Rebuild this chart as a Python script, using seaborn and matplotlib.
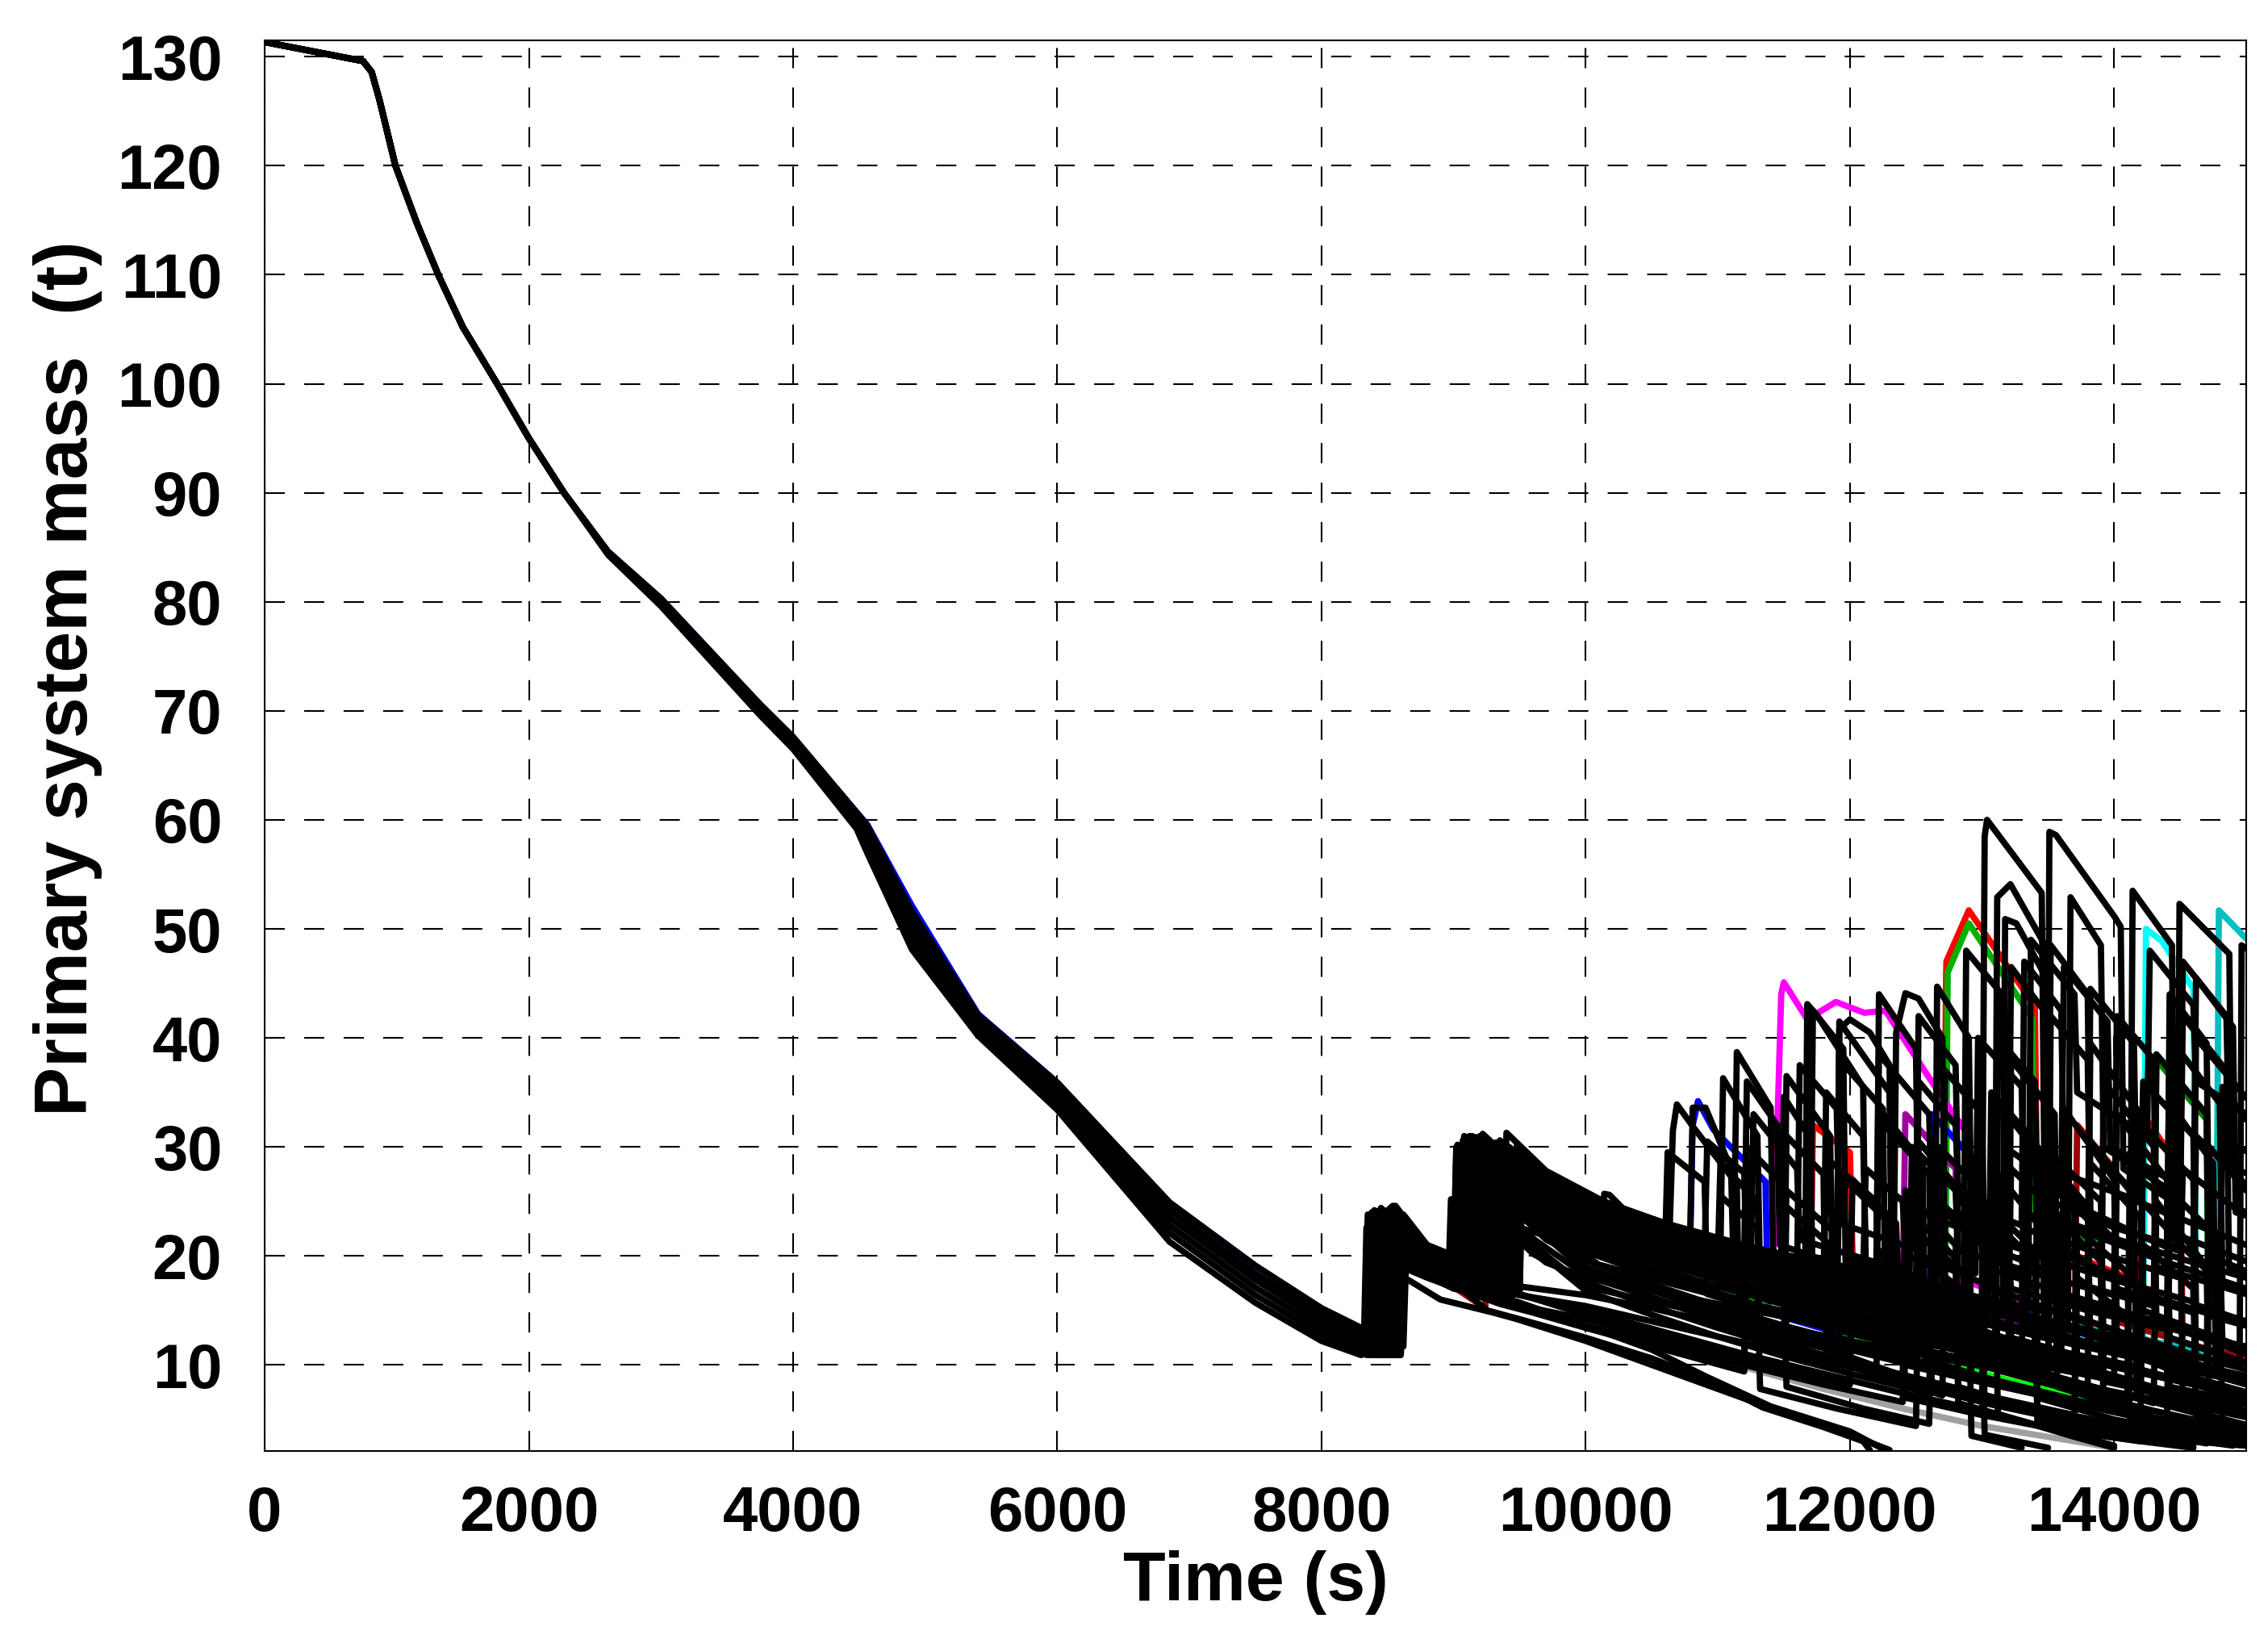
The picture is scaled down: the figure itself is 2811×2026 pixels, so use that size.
import pandas as pd
import numpy as np
import matplotlib
matplotlib.use("Agg")
import matplotlib.pyplot as plt
import seaborn as sns

# ---- data ----
# common early part of all runs (six bands of the thick bundle)
t_early = [0, 745, 810, 870, 990, 1150, 1314, 1500, 1760, 2000, 2266, 2600, 3000, 3750, 4000,
           4480, 4560, 4900, 5400, 6000, 6850, 7500, 8000, 8300]
m_early_head = [131.35, 129.6, 128.6, 126.0, 120.0, 114.8, 110.0, 105.2, 100.0, 95.0, 90.0]
m_band_1 = [84.6, 80.3, 70.6, 67.6, 60.7, 59.5, 51.6, 42.1, 35.9, 24.9, 19.1, 15.2, 13.4]
m_band_2 = [84.55, 80.15, 70.4, 67.35, 60.4, 59.0, 50.9, 41.7, 35.4, 24.2, 18.4, 14.6, 12.8]
m_band_3 = [84.5, 80.0, 70.2, 67.1, 60.1, 58.5, 50.2, 41.3, 34.9, 23.5, 17.8, 14.0, 12.3]
m_band_4 = [84.45, 79.85, 70.0, 66.9, 59.8, 58.0, 49.5, 40.9, 34.4, 22.8, 17.1, 13.4, 11.8]
m_band_5 = [84.4, 79.7, 69.8, 66.7, 59.5, 57.5, 48.8, 40.5, 33.9, 22.1, 16.4, 12.8, 11.3]
m_band_6 = [84.3, 79.6, 69.6, 66.5, 59.2, 57.0, 48.1, 40.2, 33.4, 21.3, 15.7, 12.2, 10.9]
m_band_blue = [84.6, 80.3, 70.6, 67.6, 60.7, 59.6, 52.1, 42.2, 35.9, 24.9, 19.1, 15.2, 13.4]

# late part of each run: (time s, mass t) knots from the branch point at 8300 s
black_runs_low = [
    [(8300, 11.0), (8330, 11.0), (8350, 21.0), (8600, 19.3), (9000, 17.0), (9480, 15.8), (10000, 13.6),
     (10500, 11.4), (10900, 9.0), (11400, 6.2), (12000, 3.9), (12250, 2.3)],
    [(8300, 11.0), (8560, 10.9), (8580, 22.0), (8800, 19.6), (9255, 15.0), (9500, 14.2), (10000, 12.5),
     (10500, 10.6), (10933, 8.6), (11340, 6.1), (11800, 4.3), (12100, 3.0), (12150, 2.2)],
    [(8300, 11.0), (8600, 10.9), (8630, 18.0), (8900, 16.0), (9300, 14.8), (9480, 14.2), (10000, 12.2),
     (10500, 10.0), (11000, 7.8), (11500, 5.6), (12000, 3.6), (12300, 2.2)],
    [(8300, 11.6), (8470, 11.3), (8490, 22.3), (8800, 19.5), (9250, 17.2), (9500, 16.5), (10000, 14.6),
     (10600, 12.6), (11200, 10.6), (11220, 30.0), (11500, 26.5), (11520, 12.0), (12100, 9.5), (12700, 7.2),
     (12720, 24.0), (13100, 20.0), (13120, 5.5), (13700, 3.4), (14000, 2.4)],
    [(8300, 11.0), (8350, 11.0), (8370, 20.8), (8800, 18.6), (9300, 16.0), (9320, 28.0), (9600, 25.2),
     (10000, 22.4), (10700, 19.3), (11300, 17.0), (11320, 7.8), (11900, 6.0), (12500, 4.4), (12520, 20.0),
     (12900, 16.0), (12920, 3.5), (13300, 2.4)],
    [(8300, 11.0), (8450, 10.9), (8470, 20.5), (8800, 18.4), (9200, 16.4), (9500, 15.4), (10000, 13.6),
     (10600, 11.8), (11200, 10.0), (11800, 8.2), (12400, 6.6), (12420, 26.0), (12800, 21.0), (12820, 8.0),
     (13400, 5.8), (14000, 4.0), (14600, 3.0), (15000, 2.6)],
    [(8300, 12.3), (8620, 11.7), (8640, 19.5), (8900, 17.8), (9500, 16.4), (10000, 15.0), (10600, 13.0),
     (11200, 11.0), (11800, 9.2), (12400, 7.4), (13000, 5.8), (13020, 18.0), (13400, 14.0), (13420, 5.0),
     (14000, 3.6), (14600, 2.6)],
    [(8300, 11.0), (8400, 11.0), (8420, 21.6), (8800, 18.8), (9300, 17.6), (9460, 17.3), (9480, 30.2),
     (9700, 27.6), (10200, 24.5), (10800, 21.9), (11479, 19.5), (11500, 34.6), (11700, 30.8), (11720, 16.0),
     (12400, 13.2), (13000, 11.0), (13020, 24.0), (13400, 19.5), (13420, 4.5), (14000, 2.6)],
    [(8300, 11.0), (8390, 10.9), (8410, 20.0), (8800, 18.0), (9350, 15.6), (9600, 14.8), (10000, 13.4),
     (10600, 11.4), (11200, 9.4), (11220, 21.0), (11500, 18.0), (11520, 8.0), (12100, 6.0), (12600, 4.6),
     (12620, 17.0), (13000, 13.5), (13020, 3.6), (13500, 2.4)],
    [(8300, 11.6), (8560, 11.4), (8580, 21.8), (8800, 19.6), (9200, 17.6), (9420, 17.0), (9440, 28.4),
     (9750, 25.8), (10300, 22.6), (10900, 19.8), (11500, 17.4), (12100, 15.2), (12700, 13.2), (12720, 24.5),
     (13100, 20.5), (13120, 9.5), (13700, 7.6), (14300, 5.8), (14900, 4.2), (15000, 4.0)],
    [(8300, 11.0), (8480, 10.9), (8500, 20.8), (8800, 18.8), (9200, 16.8), (9440, 16.0), (9460, 27.6),
     (9800, 24.6), (10300, 21.6), (10900, 18.8), (11500, 16.4), (11520, 31.0), (11800, 27.5), (11820, 10.5),
     (12400, 8.4), (13000, 6.6), (13020, 21.0), (13400, 17.0), (13420, 7.0), (14000, 5.0), (14600, 3.6),
     (15000, 3.0)],
    [(8300, 11.6), (8500, 11.4), (8520, 21.0), (8800, 19.0), (9200, 17.2), (9600, 16.2), (10000, 15.4),
     (10500, 14.0), (11000, 12.6), (11500, 11.2), (12000, 9.8), (12500, 8.4), (13000, 7.0), (13020, 16.5),
     (13400, 13.0), (13420, 6.0), (14000, 4.6), (14600, 3.4), (15000, 2.8)],
    [(8300, 12.3), (8410, 12.0), (8430, 22.0), (8800, 19.6), (9150, 17.9), (9500, 17.2), (10000, 16.4),
     (10500, 15.2), (11000, 13.8), (11500, 12.4), (12000, 11.0), (12020, 20.0), (12400, 17.0), (12420, 10.0),
     (13000, 8.4), (13600, 6.8), (14200, 5.4), (14800, 4.0), (15000, 3.7)],
]

black_runs_fill = [
    [(8300, 11.6), (8430, 11.4), (8450, 21.8), (8800, 19.4), (9150, 17.9), (9170, 28.4), (9400, 25.0),
     (9700, 21.5), (10000, 19.6), (10500, 17.4), (11000, 15.4), (11500, 13.6), (12000, 12.0), (12500, 10.4),
     (12520, 22.0), (12900, 18.0), (12920, 9.0), (13500, 7.2), (14100, 5.6), (14700, 4.2), (15000, 3.6)],
    [(8300, 12.3), (8380, 12.1), (8400, 22.9), (8800, 19.9), (9060, 18.7), (9080, 29.2), (9350, 25.6),
     (9700, 22.0), (10000, 20.4), (10600, 17.8), (11200, 15.6), (11800, 13.6), (12400, 11.8), (13000, 10.2),
     (13020, 25.0), (13400, 20.5), (13420, 11.5), (14000, 9.8), (14600, 8.2), (15000, 7.2)],
    [(8300, 11.0), (8520, 10.9), (8540, 21.4), (8800, 19.0), (9300, 16.6), (9320, 27.0), (9600, 22.8),
     (10000, 18.6), (10500, 16.2), (11000, 14.0), (11500, 12.0), (11520, 24.5), (11850, 21.0), (11870, 11.0),
     (12400, 9.0), (13000, 7.0), (13600, 5.2), (14200, 3.8), (14700, 2.8)],
    [(8300, 13.2), (8420, 12.7), (8440, 24.2), (8800, 20.6), (9100, 19.1), (9120, 30.2), (9380, 26.6),
     (9700, 23.4), (10000, 21.6), (10600, 19.2), (11200, 17.2), (11800, 15.4), (11820, 29.0), (12200, 25.0),
     (12220, 14.0), (12800, 12.2), (13400, 10.6), (14000, 9.0), (14020, 27.5), (14400, 22.5), (14420, 8.0),
     (15000, 6.5)],
    [(8300, 12.3), (8560, 11.9), (8580, 22.6), (8800, 20.3), (9350, 17.6), (9370, 28.8), (9650, 24.6),
     (10000, 21.0), (10500, 18.6), (11000, 16.6), (11600, 14.4), (12200, 12.4), (12800, 10.6), (13400, 8.8),
     (13420, 30.0), (13800, 24.5), (13820, 12.0), (14400, 10.2), (15000, 8.6)],
    [(8300, 11.6), (8330, 11.5), (8350, 22.2), (8800, 19.4), (9000, 18.5), (9020, 27.6), (9300, 23.8),
     (9600, 20.2), (10000, 17.6), (10500, 15.4), (11000, 13.4), (11600, 11.2), (12200, 9.2), (12220, 20.5),
     (12600, 17.0), (12620, 8.0), (13200, 6.2), (13800, 4.6), (14400, 3.4), (14900, 2.6)],
    [(8300, 13.2), (8590, 12.5), (8610, 23.0), (8800, 21.0), (9420, 18.0), (9440, 29.6), (9700, 26.0),
     (10000, 23.0), (10600, 20.4), (11200, 18.2), (11800, 16.2), (12400, 14.4), (13000, 12.8), (13600, 11.2),
     (14200, 9.8), (14220, 32.0), (14600, 27.0), (14620, 10.0), (15000, 9.0)],
    [(8300, 11.0), (8420, 10.9), (8440, 20.4), (8800, 18.3), (9200, 16.4), (9220, 25.8), (9500, 21.8),
     (10000, 16.8), (10500, 14.6), (11000, 12.6), (11500, 10.8), (12000, 9.2), (12600, 7.4), (12620, 19.0),
     (13000, 15.5), (13020, 6.5), (13600, 5.0), (14200, 3.8), (14800, 2.8), (15000, 2.6)],
    [(8300, 12.3), (8490, 12.0), (8510, 23.0), (8800, 20.2), (9200, 18.5), (9220, 29.0), (9500, 25.6),
     (9800, 22.6), (10000, 21.4), (10500, 19.0), (11000, 17.2), (11600, 15.2), (12200, 13.4), (12800, 11.8),
     (12820, 24.0), (13200, 20.0), (13220, 17.0), (13800, 15.0), (14400, 13.2), (14420, 26.0), (14800, 21.5),
     (14820, 12.0), (15000, 11.6)],
    [(8300, 11.6), (8470, 11.4), (8490, 21.6), (8800, 19.3), (9250, 17.4), (9270, 27.4), (9550, 23.2),
     (10000, 19.0), (10600, 16.4), (11200, 14.2), (11800, 12.2), (12400, 10.4), (12420, 23.0), (12800, 19.0),
     (12820, 15.0), (13400, 13.0), (14000, 11.2), (14600, 9.4), (15000, 8.4)],
    [(8300, 12.3), (8350, 12.2), (8370, 23.4), (8800, 20.0), (9120, 18.8), (9140, 29.8), (9400, 26.2),
     (9800, 22.0), (10000, 20.8), (10600, 18.4), (11000, 17.0), (11020, 25.5), (11300, 22.5), (11320, 12.5),
     (11900, 10.6), (12500, 8.8), (13100, 7.0), (13700, 5.4), (13720, 18.0), (14100, 14.5), (14120, 4.8),
     (14700, 3.4), (15000, 3.0)],
    [(8300, 13.2), (8440, 12.7), (8460, 24.0), (8800, 20.6), (9300, 18.4), (9320, 29.4), (9600, 25.8),
     (10000, 22.2), (10500, 20.0), (11000, 18.2), (11500, 16.6), (12000, 15.0), (12020, 27.0), (12350, 23.0),
     (12370, 16.0), (12900, 14.2), (13500, 12.4), (14100, 10.8), (14700, 9.2), (15000, 8.6)],
    [(8300, 11.0), (8370, 11.0), (8390, 21.4), (8800, 18.8), (9400, 16.0), (9600, 15.2), (10000, 14.2),
     (10500, 12.6), (11000, 11.0), (11500, 9.6), (12000, 8.2), (12020, 19.5), (12400, 16.0), (12420, 7.0),
     (13000, 5.4), (13600, 4.0), (14200, 3.0), (14600, 2.4)],
    [(8300, 12.3), (8530, 11.9), (8550, 22.2), (8800, 20.0), (9040, 18.8), (9060, 28.0), (9300, 25.0),
     (9600, 21.6), (10000, 18.2), (10600, 15.8), (11200, 13.8), (11800, 12.0), (12400, 10.2), (13000, 8.6),
     (13600, 7.0), (14200, 5.6), (14220, 21.0), (14600, 17.0), (14620, 5.0), (15000, 4.4)],
    [(8300, 11.6), (8600, 11.3), (8620, 20.8), (8800, 19.4), (9100, 17.8), (9500, 16.6), (9520, 27.0),
     (9800, 23.4), (10200, 19.8), (10800, 17.2), (11400, 15.0), (12000, 13.0), (12600, 11.2), (13200, 9.6),
     (13800, 8.0), (13820, 28.5), (14200, 23.5), (14220, 16.5), (14800, 14.4), (15000, 13.8)],
    [(8300, 13.2), (8330, 13.1), (8350, 23.8), (8800, 20.6), (9180, 19.0), (9200, 30.4), (9450, 27.4),
     (9800, 24.0), (10100, 22.6), (10700, 20.6), (11300, 18.8), (11900, 17.0), (12500, 15.4), (13100, 13.8),
     (13120, 40.0), (13400, 36.0), (13420, 24.0), (14000, 21.6), (14600, 19.4), (15000, 18.0)],
    [(8300, 11.0), (8540, 10.9), (8560, 20.2), (8800, 18.6), (9300, 16.8), (9330, 25.0), (9600, 21.0),
     (10000, 17.2), (10500, 15.8), (11000, 14.6), (11500, 13.4), (12000, 12.2), (12600, 10.8), (13200, 9.4),
     (13800, 8.0), (14400, 6.6), (15000, 5.4)],
    [(8300, 12.3), (8460, 12.0), (8480, 22.4), (8800, 19.8), (9050, 18.6), (9070, 27.0), (9350, 22.8),
     (9700, 19.4), (10000, 18.0), (10500, 16.8), (11000, 15.6), (11600, 14.2), (12200, 12.8), (12800, 11.4),
     (13400, 10.0), (14000, 8.6), (14600, 7.2), (15000, 6.4)],
    [(8300, 11.6), (8390, 11.4), (8410, 21.6), (8800, 19.0), (9380, 16.6), (9400, 26.2), (9700, 22.4),
     (10100, 19.2), (10600, 17.6), (11100, 16.0), (11700, 14.4), (12300, 12.8), (12900, 11.4), (13500, 10.0),
     (13520, 24.0), (13900, 19.5), (13920, 8.5), (14500, 7.0), (15000, 5.8)],
]

black_runs_mid = [
    [(8300, 11.6), (8360, 11.4), (8380, 22.6), (8560, 22.2), (8800, 20.0), (9100, 18.4), (9120, 29.8),
     (9300, 28.0), (9700, 24.9), (10200, 22.4), (10800, 19.8), (11500, 17.2), (11520, 36.5), (11850, 31.0),
     (11870, 17.0), (12500, 13.8), (13100, 11.0), (13120, 27.5), (13550, 21.0), (13570, 8.0), (14300, 5.2),
     (15000, 3.4)],
    [(8300, 13.2), (8480, 12.4), (8500, 24.2), (8800, 20.4), (9050, 18.8), (9070, 30.6), (9400, 27.2),
     (10000, 23.8), (10631, 20.8), (10660, 31.5), (10690, 33.9), (10828, 31.6), (11144, 26.6), (11160, 14.5),
     (11800, 11.6), (12400, 9.0), (12420, 24.5), (12800, 19.8), (12820, 6.5), (13500, 4.2), (14200, 3.0)],
    [(8300, 11.6), (8340, 11.5), (8360, 23.0), (8550, 22.5), (8800, 20.2), (9150, 18.3), (9170, 30.9),
     (9400, 28.8), (9700, 26.2), (10100, 23.7), (10600, 21.8), (10790, 21.0), (10810, 33.6), (10907, 33.6),
     (11100, 28.0), (11120, 18.6), (11660, 16.6), (11677, 43.1), (11755, 42.0), (12100, 35.5), (12120, 17.0),
     (12800, 14.0), (13400, 11.5), (13420, 22.5), (13900, 18.5), (13920, 6.0), (14600, 4.0), (15000, 3.2)],
    [(8300, 12.3), (8450, 12.0), (8470, 23.8), (8800, 20.4), (9000, 19.6), (9020, 30.0), (9300, 28.3),
     (9800, 25.8), (10400, 22.9), (11020, 20.6), (11040, 36.3), (11300, 31.0), (11320, 17.8), (11900, 15.2),
     (12500, 13.0), (12520, 30.5), (12900, 25.0), (12920, 11.5), (13600, 8.8), (14300, 6.5), (14320, 25.0),
     (14700, 19.0), (14720, 5.0), (15000, 4.2)],
    [(8300, 12.3), (8390, 12.0), (8410, 22.8), (8800, 19.8), (9150, 18.2), (9170, 29.0), (9500, 26.0),
     (10000, 23.0), (10600, 20.4), (10620, 29.5), (10900, 26.8), (10920, 16.5), (11500, 14.4), (12100, 12.6),
     (12700, 10.8), (13300, 9.0), (13320, 30.0), (13700, 24.5), (13720, 10.0), (14400, 7.6), (15000, 5.8)],
    [(8300, 12.3), (8500, 12.0), (8520, 23.6), (8800, 20.3), (9250, 18.5), (9270, 30.5), (9500, 28.0),
     (10000, 24.8), (10800, 21.5), (11500, 19.2), (12200, 17.2), (12220, 32.5), (12600, 27.5), (12620, 14.5),
     (13300, 12.0), (13900, 9.8), (13920, 36.0), (14300, 30.0), (14320, 14.0), (15000, 11.0)],
    [(8300, 11.6), (8540, 11.3), (8560, 21.5), (8800, 19.4), (9100, 17.8), (9500, 17.0), (9520, 29.0),
     (9800, 26.4), (10300, 23.6), (10900, 21.0), (11500, 18.8), (12100, 17.0), (12700, 15.2), (12720, 37.0),
     (13000, 33.0), (13020, 19.0), (13600, 16.6), (14200, 14.4), (14800, 12.4), (14820, 35.5), (15000, 32.5)],
    [(8300, 12.3), (8330, 12.2), (8350, 22.0), (8800, 19.6), (9200, 17.8), (9220, 30.0), (9500, 27.2),
     (10000, 24.0), (10700, 21.0), (11400, 18.6), (11900, 17.0), (11920, 38.0), (12250, 33.5), (12270, 13.5),
     (12900, 11.0), (13500, 8.8), (14100, 6.8), (14120, 29.5), (14500, 24.0), (14520, 6.0), (15000, 4.5)],
    [(8300, 13.2), (8460, 12.5), (8480, 23.9), (8800, 20.4), (9150, 18.8), (9170, 30.6), (9450, 28.0),
     (9900, 25.0), (10500, 22.6), (11100, 20.6), (11700, 18.8), (11720, 42.5), (11950, 39.0), (11970, 16.0),
     (12600, 13.6), (13200, 11.6), (13800, 9.8), (13820, 30.5), (14150, 25.5), (14170, 7.0), (14800, 5.0),
     (15000, 4.4)],
    [(8300, 11.0), (8410, 10.9), (8430, 21.2), (8800, 18.9), (9100, 17.4), (9400, 16.6), (9420, 27.0),
     (9700, 24.4), (10200, 21.6), (10800, 18.8), (11400, 16.4), (12000, 14.4), (12600, 12.6), (13200, 10.8),
     (13220, 38.0), (13550, 33.0), (13570, 15.0), (14200, 12.4), (14800, 10.2), (15000, 9.6)],
    [(8300, 12.3), (8370, 12.0), (8390, 23.1), (8800, 20.1), (9050, 18.8), (9070, 29.6), (9350, 27.4),
     (9800, 24.5), (10400, 21.8), (11000, 19.4), (11600, 17.4), (12200, 15.6), (12220, 33.5), (12550, 28.5),
     (12570, 10.5), (13200, 8.2), (13800, 6.2), (14400, 4.6), (14420, 22.0), (14800, 17.5), (14820, 3.5),
     (15000, 3.2)],
    [(8300, 11.6), (8440, 11.3), (8460, 22.0), (8800, 19.4), (9300, 17.2), (9320, 29.4), (9600, 26.6),
     (10000, 24.0), (10600, 21.4), (11200, 19.2), (11800, 17.2), (12400, 15.4), (13000, 13.8), (13600, 12.2),
     (13620, 26.0), (14000, 21.5), (14020, 17.0), (14600, 14.8), (14620, 31.0), (15000, 26.5)],
    [(8300, 11.6), (8410, 11.4), (8430, 22.4), (8800, 19.8), (9060, 18.6), (9080, 29.0), (9400, 27.0),
     (9900, 24.0), (10500, 21.6), (11000, 19.8), (11020, 28.5), (11300, 25.0), (11320, 18.0), (11900, 15.8),
     (12500, 13.6), (13100, 11.6), (13120, 34.0), (13450, 29.0), (13470, 14.0), (14100, 11.6), (14700, 9.6),
     (14720, 30.0), (15000, 26.0)],
    [(8300, 12.3), (8350, 12.2), (8370, 22.4), (8800, 19.7), (9000, 18.9), (9020, 29.4), (9300, 27.6),
     (9700, 25.0), (10300, 22.2), (10900, 19.8), (11500, 17.6), (11520, 26.0), (11900, 22.0), (11920, 12.5),
     (12500, 10.4), (13100, 8.6), (13700, 6.8), (13720, 22.5), (14100, 18.5), (14120, 8.0), (14700, 6.0),
     (15000, 5.2)],
    [(8300, 11.0), (8440, 10.9), (8460, 21.0), (8800, 18.8), (9250, 16.8), (9270, 27.8), (9600, 24.8),
     (10100, 21.8), (10700, 19.0), (11300, 16.6), (11900, 14.6), (11920, 27.5), (12300, 23.0), (12320, 13.0),
     (12900, 11.0), (13500, 9.2), (13520, 27.0), (13900, 22.0), (13920, 10.5), (14500, 8.6), (15000, 7.2)],
    [(8300, 11.6), (8320, 11.6), (8340, 22.6), (8800, 19.6), (9020, 18.6), (9040, 28.6), (9300, 27.0),
     (9800, 24.2), (10400, 21.4), (11000, 19.0), (11600, 17.0), (12200, 15.2), (12800, 13.6), (12820, 26.5),
     (13200, 22.0), (13220, 12.5), (13800, 10.6), (14400, 8.8), (14420, 34.0), (14750, 28.5), (14770, 9.0),
     (15000, 8.2)],
    [(8300, 12.3), (8340, 12.2), (8360, 22.8), (8800, 19.9), (9100, 18.6), (9450, 17.6), (9470, 29.2),
     (9750, 26.6), (10250, 23.6), (10850, 21.0), (11450, 18.8), (12050, 16.8), (12650, 14.8), (12670, 30.0),
     (13000, 26.0), (13020, 12.0), (13600, 9.8), (14200, 7.8), (14800, 6.0), (15000, 5.5)],
]

black_runs_high = [
    [(8300, 12.3), (8420, 11.8), (8440, 23.5), (8540, 24.6), (8800, 20.6), (9000, 19.2), (9200, 18.6),
     (9220, 31.2), (9450, 28.6), (9800, 25.5), (10300, 22.8), (10900, 20.4), (10920, 30.5), (11200, 27.6),
     (11220, 18.6), (11900, 16.2), (11920, 41.5), (12300, 35.0), (12320, 16.0), (13000, 12.8), (13600, 10.5),
     (13620, 33.5), (14000, 27.0), (14020, 13.0), (14600, 10.2), (15000, 8.8)],
    [(8300, 12.3), (8600, 11.6), (8620, 20.5), (8800, 19.0), (8960, 17.6), (8980, 25.2), (9060, 24.4),
     (9600, 22.2), (10120, 20.5), (10140, 25.7), (10180, 25.6), (10450, 22.3), (10700, 21.4), (11120, 19.8),
     (11144, 38.7), (11400, 33.6), (11420, 19.0), (12200, 16.4), (12220, 44.0), (12500, 39.0), (12520, 20.0),
     (13200, 16.5), (13800, 13.8), (13820, 39.5), (14200, 33.0), (14220, 15.0), (15000, 11.5)],
    [(8300, 13.2), (8520, 12.5), (8540, 24.0), (8800, 20.5), (9050, 18.9), (9350, 18.0), (9370, 30.4),
     (9600, 27.8), (10000, 25.4), (10500, 23.0), (11000, 21.2), (11600, 19.4), (12000, 18.4), (12330, 18.0),
     (12350, 40.5), (12420, 44.1), (12520, 43.6), (12700, 40.0), (12720, 16.5), (13400, 13.6), (14000, 11.2),
     (14020, 33.0), (14400, 27.0), (14420, 9.0), (15000, 6.6)],
    [(8300, 11.6), (8380, 11.3), (8400, 22.0), (8800, 19.3), (9200, 17.4), (9230, 29.2), (9500, 26.8),
     (9900, 24.2), (10500, 21.4), (11100, 19.0), (11700, 17.0), (12300, 15.2), (12643, 14.2), (12660, 44.7),
     (12900, 40.0), (12920, 21.5), (13500, 18.6), (13520, 48.5), (13800, 44.0), (13820, 24.0), (14400, 20.8),
     (14420, 40.0), (14800, 34.0), (14820, 17.5), (15000, 16.8)],
    [(8300, 12.3), (8440, 11.9), (8460, 23.2), (8800, 20.0), (9100, 18.5), (9120, 31.0), (9400, 28.0),
     (9900, 24.8), (10500, 22.2), (11200, 19.8), (11800, 17.6), (12400, 15.8), (12998, 14.0), (13020, 58.5),
     (13038, 60.0), (13452, 53.3), (13470, 30.0), (13900, 25.0), (13920, 12.0), (14500, 9.2), (15000, 7.5)],
    [(8300, 11.0), (8500, 10.9), (8520, 21.3), (8800, 19.0), (9200, 16.8), (9400, 16.2), (9420, 29.6),
     (9700, 26.6), (10100, 24.0), (10700, 21.2), (11300, 19.0), (11900, 17.2), (12500, 15.4), (13000, 14.0),
     (13491, 12.8), (13510, 58.9), (13560, 58.6), (14004, 51.1), (14050, 50.2), (14070, 28.0), (14500, 24.5),
     (14520, 42.0), (14850, 37.0), (14870, 19.0), (15000, 18.5)],
    [(8300, 12.3), (8560, 11.8), (8580, 23.0), (8800, 20.6), (9300, 18.0), (9320, 30.4), (9600, 27.4),
     (10000, 25.0), (10500, 22.8), (11000, 21.0), (11500, 19.5), (11900, 18.3), (11920, 40.8), (12000, 41.7),
     (12150, 40.5), (12300, 37.5), (12320, 18.0), (12900, 15.8), (13097, 15.0), (13115, 52.9), (13215, 54.1),
     (13500, 48.0), (13520, 20.5), (14100, 17.8), (14122, 17.6), (14140, 53.5), (14438, 48.5), (14460, 22.0),
     (15000, 19.5)],
    [(8300, 13.2), (8360, 12.9), (8380, 24.0), (8800, 20.6), (9000, 19.4), (9380, 18.0), (9400, 31.3),
     (9700, 27.8), (10200, 24.6), (10800, 22.0), (11400, 20.0), (12000, 18.2), (12600, 16.6), (13156, 15.4),
     (13175, 50.9), (13260, 50.5), (13500, 45.2), (13520, 26.0), (14000, 22.8), (14478, 20.5), (14495, 52.3),
     (14872, 47.7), (14890, 28.0), (15000, 27.6)],
    [(8300, 13.2), (8430, 12.6), (8450, 24.4), (8800, 20.6), (9050, 19.2), (9080, 31.0), (9350, 28.5),
     (9800, 25.2), (10300, 23.0), (10900, 21.0), (11600, 19.0), (12200, 17.2), (12800, 15.6), (13400, 14.0),
     (13650, 13.4), (13670, 52.9), (13900, 48.5), (13920, 30.0), (14400, 26.2), (14420, 12.5), (15000, 10.2)],
    [(8300, 13.2), (8400, 12.8), (8420, 24.0), (8800, 20.5), (9000, 19.4), (9030, 30.2), (9300, 28.5),
     (9700, 25.8), (10200, 23.4), (10700, 21.6), (11200, 20.0), (11220, 36.0), (11450, 32.0), (11470, 21.0),
     (12000, 18.8), (12600, 16.8), (13200, 15.0), (13800, 13.2), (14400, 11.6), (14420, 44.0), (14700, 39.5),
     (14720, 20.0), (15000, 18.6)],
    [(8300, 11.6), (8580, 11.4), (8600, 22.4), (8800, 20.6), (9350, 17.4), (9370, 29.8), (9700, 26.8),
     (10200, 24.0), (10800, 21.6), (11400, 19.6), (12000, 17.8), (12600, 16.0), (13200, 14.4), (13800, 12.8),
     (14400, 11.2), (14950, 10.0), (14965, 48.5), (15000, 48.2)],
    [(8300, 13.2), (8540, 12.6), (8560, 24.6), (8800, 20.6), (9100, 19.0), (9120, 30.8), (9400, 28.6),
     (9900, 25.6), (10500, 23.2), (11100, 21.2), (11700, 19.6), (12300, 18.0), (12900, 16.4), (13500, 14.8),
     (13520, 42.0), (13800, 38.0), (13820, 22.0), (14400, 19.4), (15000, 17.0)],
    [(8300, 12.3), (8460, 12.1), (8480, 23.2), (8800, 20.2), (9140, 18.6), (9160, 30.2), (9450, 27.8),
     (10000, 24.4), (10600, 22.0), (11250, 19.6), (11270, 33.0), (11600, 28.0), (11620, 21.5), (12200, 19.4),
     (12220, 38.5), (12600, 33.0), (12620, 23.5), (13200, 21.0), (13800, 18.6), (13820, 44.5), (14150, 39.5),
     (14170, 25.0), (14800, 22.0), (15000, 21.0)],
    [(8300, 13.2), (8500, 12.7), (8520, 24.3), (8800, 20.6), (9180, 18.8), (9200, 31.0), (9500, 28.2),
     (10000, 25.4), (10700, 22.6), (11300, 20.6), (11900, 18.8), (12500, 17.0), (12520, 36.0), (12800, 32.0),
     (12820, 26.0), (13200, 23.6), (13220, 46.5), (13500, 42.0), (13520, 25.0), (14000, 22.6), (14600, 20.4),
     (14620, 45.5), (14900, 41.0), (14920, 24.0), (15000, 23.7)],
    [(8300, 11.6), (8520, 11.3), (8540, 22.2), (8800, 19.6), (9280, 17.6), (9300, 28.6), (9600, 26.0),
     (10000, 23.4), (10600, 20.8), (11200, 18.6), (11800, 16.6), (11820, 35.0), (12100, 31.0), (12120, 19.5),
     (12700, 17.2), (13300, 15.0), (13320, 30.5), (13700, 26.0), (13720, 17.5), (14300, 15.4), (14320, 38.5),
     (14700, 33.0), (14720, 14.5), (15000, 13.6)],
    [(8300, 13.2), (8380, 12.9), (8400, 24.2), (8800, 20.6), (9120, 19.0), (9140, 31.0), (9400, 28.8),
     (9900, 25.6), (10500, 23.0), (11000, 21.4), (11600, 19.6), (12100, 18.2), (12120, 28.0), (12400, 25.0),
     (12420, 20.0), (12950, 18.4), (12970, 40.0), (13300, 35.5), (13320, 22.5), (13900, 20.2), (14500, 18.0),
     (14520, 28.0), (14900, 24.5), (15000, 24.0)],
    [(8300, 12.3), (8580, 11.9), (8600, 22.8), (8800, 20.4), (9400, 17.8), (9420, 30.0), (9700, 27.2),
     (10200, 24.4), (10800, 22.0), (11400, 20.0), (12000, 18.0), (12600, 16.2), (13200, 14.6), (13220, 28.0),
     (13600, 23.5), (13620, 16.0), (14200, 14.0), (14800, 12.2), (15000, 11.7)],
    [(8300, 13.2), (8600, 12.4), (8620, 23.8), (8800, 21.0), (9330, 18.2), (9350, 30.6), (9650, 27.8),
     (10100, 25.0), (10700, 22.6), (11300, 20.6), (11900, 18.8), (12450, 17.2), (12470, 30.0), (12800, 26.0),
     (12820, 20.5), (13400, 18.4), (14000, 16.4), (14020, 42.0), (14300, 38.0), (14320, 19.0), (15000, 16.5)],
    [(8300, 12.3), (8480, 12.0), (8500, 23.3), (8800, 20.2), (9080, 18.8), (9100, 29.8), (9350, 28.0),
     (9800, 25.0), (10400, 22.4), (11000, 20.2), (11600, 18.2), (11620, 37.5), (11900, 33.5), (11920, 23.0),
     (12500, 20.6), (12520, 42.0), (12800, 37.5), (12820, 25.0), (13300, 22.8), (13320, 47.0), (13600, 42.5),
     (13620, 27.5), (14200, 25.0), (14220, 36.0), (14600, 31.0), (14620, 15.5), (15000, 14.0)],
    [(8300, 13.2), (8470, 12.6), (8490, 24.0), (8800, 20.5), (9000, 19.5), (9260, 18.6), (9280, 30.0),
     (9550, 27.6), (10050, 24.8), (10650, 22.4), (11250, 20.4), (11850, 18.6), (12450, 17.0), (13050, 15.4),
     (13070, 35.0), (13400, 30.5), (13420, 20.0), (14000, 17.8), (14600, 15.8), (14620, 40.0), (15000, 34.5)],
    [(8300, 11.6), (8430, 11.4), (8450, 22.6), (8800, 19.8), (9160, 18.2), (9180, 29.4), (9500, 26.8),
     (10000, 23.8), (10600, 21.4), (11200, 19.4), (11800, 17.6), (12400, 16.0), (12860, 14.8), (12880, 48.0),
     (13150, 44.0), (13170, 30.0), (13600, 26.4), (13620, 46.5), (13950, 41.5), (13970, 30.0), (14500, 26.5),
     (14520, 47.0), (14850, 42.0), (14870, 30.5), (15000, 29.6)],
    [(8300, 13.2), (8550, 12.6), (8570, 24.4), (8800, 20.8), (9220, 18.8), (9240, 30.8), (9500, 28.6),
     (10000, 25.6), (10600, 23.0), (11200, 21.0), (11800, 19.2), (12400, 17.6), (13000, 16.0), (13350, 15.2),
     (13370, 49.0), (13700, 44.0), (13720, 35.0), (14250, 31.0), (14270, 48.0), (14600, 43.0), (14620, 36.0),
     (15000, 33.0)],
]

red_run = [(8300, 12.3), (8400, 12.0), (8420, 22.5), (8800, 19.2), (9150, 17.5), (9170, 28.8), (9500, 25.5),
           (10000, 22.0), (10600, 19.0), (11200, 16.5), (11700, 15.5), (11720, 32.0), (12000, 29.5),
           (12020, 20.0), (12300, 18.5), (12700, 17.0), (12730, 47.0), (12900, 51.7), (13400, 42.9),
           (13420, 22.0), (13800, 19.5), (14200, 17.5), (14220, 33.0), (14500, 28.0), (14520, 12.0), (15000, 9.5)]
green_run = [(8300, 11.6), (8400, 11.3), (8420, 22.0), (8800, 19.2), (9280, 17.0), (9300, 29.9), (9500, 26.8),
             (9800, 24.0), (10300, 20.6), (10900, 18.0), (11500, 16.0), (12100, 14.4), (12720, 13.0),
             (12740, 46.0), (12900, 50.5), (13380, 41.8), (13400, 24.0), (13900, 21.0), (13920, 7.0),
             (14500, 5.0), (15000, 4.0)]
blue_run = [(8300, 12.3), (8500, 12.0), (8520, 23.0), (8800, 20.0), (9200, 18.4), (9220, 29.6), (9500, 27.0),
            (10000, 23.6), (10500, 21.8), (10790, 21.0), (10810, 32.0), (10850, 34.2), (10966, 31.6),
            (11361, 26.8), (11380, 14.8), (12000, 12.6), (12600, 10.6), (12620, 33.0), (13000, 28.0),
            (13020, 16.0), (13600, 13.6), (14200, 11.4), (14800, 9.4), (15000, 8.8)]
magenta_run = [(8300, 11.0), (8380, 11.0), (8400, 21.8), (8800, 19.2), (9300, 17.0), (9320, 28.2), (9600, 25.4),
               (10100, 22.4), (10700, 20.4), (11420, 19.2), (11480, 44.0), (11500, 45.1), (11677, 41.7),
               (11894, 43.3), (12110, 42.3), (12268, 42.5), (12667, 35.1), (12900, 31.0), (12920, 17.5),
               (13500, 15.0), (14100, 12.8), (14700, 10.8), (15000, 10.0)]
cyan_run = [(8300, 11.6), (8480, 11.4), (8500, 22.6), (8800, 20.0), (9150, 18.4), (9170, 30.0), (9450, 27.6),
            (10000, 24.2), (10600, 21.8), (11200, 19.8), (11800, 17.8), (12400, 16.0), (13000, 14.4),
            (13600, 12.8), (14220, 11.2), (14241, 50.0), (14360, 48.9), (14600, 44.5), (14620, 18.0),
            (15000, 16.6)]
teal_run = [(8300, 12.3), (8420, 12.0), (8440, 23.4), (8800, 20.2), (9250, 18.2), (9270, 30.2), (9550, 27.4),
            (10000, 24.6), (10700, 21.8), (11400, 19.6), (12100, 17.6), (12800, 15.8), (13500, 14.0),
            (14200, 12.4), (14770, 11.0), (14793, 51.7), (15000, 49.1)]
gray_run = [(8300, 11.0), (8470, 10.9), (8490, 21.0), (8800, 18.8), (9300, 16.4), (9500, 15.6), (10000, 13.8),
            (10600, 11.8), (11200, 9.8), (11800, 7.8), (12400, 6.0), (13000, 4.4), (13600, 3.2), (14000, 2.4)]
darkred_run = [(8300, 12.3), (8600, 11.8), (8620, 20.0), (8800, 18.8), (9240, 15.2), (9260, 28.4), (9600, 25.4),
               (10100, 22.2), (10700, 19.6), (11300, 17.4), (11900, 15.4), (12500, 13.6), (13100, 12.0),
               (13700, 10.4), (13720, 32.0), (14000, 28.0), (14020, 14.0), (14600, 11.8), (15000, 10.6)]
darkgreen_run = [(8300, 11.6), (8520, 11.4), (8540, 23.6), (8800, 20.4), (9300, 18.0), (9320, 30.4),
                 (9600, 27.6), (10100, 24.4), (10700, 21.8), (11300, 19.4), (11900, 17.4), (12500, 15.6),
                 (13100, 13.8), (13700, 12.2), (14300, 10.6), (14320, 38.0), (14700, 32.5), (14720, 4.5),
                 (15000, 3.8)]
purple_run = [(8300, 13.2), (8440, 12.6), (8460, 24.0), (8800, 20.4), (9200, 18.8), (9220, 30.8), (9500, 28.2),
              (10000, 25.0), (10600, 22.6), (11200, 20.6), (11800, 18.8), (12400, 17.0), (12420, 33.0),
              (12800, 28.0), (12820, 15.5), (13400, 13.4), (14000, 11.4), (14600, 9.6), (15000, 8.4)]
lime_run = [(8300, 11.0), (8360, 10.9), (8380, 20.6), (8800, 18.5), (9350, 16.0), (9370, 26.5), (9700, 23.8),
            (10200, 20.6), (10800, 17.6), (11400, 15.2), (12000, 12.8), (12600, 10.6), (13200, 8.6),
            (13800, 6.8), (14400, 5.2), (15000, 4.0)]

x_ticks = [0, 2000, 4000, 6000, 8000, 10000, 12000, 14000]
y_ticks = [10, 20, 30, 40, 50, 60, 70, 80, 90, 100, 110, 120, 130]


def runs_frame(runs):
    rows = []
    for i, run in enumerate(runs):
        for t, m in run:
            rows.append((i, t, m))
    return pd.DataFrame(rows, columns=["run", "t", "m"])


sns.set_style("white")
plt.rcParams["font.family"] = ["Liberation Sans", "DejaVu Sans"]
plt.rcParams["font.weight"] = "bold"
plt.rcParams["text.color"] = "black"
plt.rcParams["axes.labelcolor"] = "black"
plt.rcParams["xtick.color"] = "black"
plt.rcParams["ytick.color"] = "black"

fig = plt.figure(figsize=(14.055, 10.13), dpi=200)
ax = fig.add_axes([0.1167, 0.1125, 0.8737, 0.8628])

lw = 2.8
colored = [
    (red_run, "#ff0000"), (green_run, "#00b000"), (blue_run, "#0000ff"),
    (magenta_run, "#ff00ff"), (cyan_run, "#00ffff"), (teal_run, "#00bfbf"),
    (gray_run, "#a0a0a0"), (darkred_run, "#a00000"), (darkgreen_run, "#008000"),
    (purple_run, "#a000a0"), (lime_run, "#00ff00"),
]
for run, col in colored:
    df = runs_frame([run])
    sns.lineplot(data=df, x="t", y="m", units="run", estimator=None, sort=False,
                 color=col, lw=lw, ax=ax, legend=False)

# blue run peeks out of the bundle during the fast drop
sns.lineplot(x=t_early, y=m_early_head + m_band_blue, color="#0000ff", lw=lw, ax=ax,
             estimator=None, sort=False)

for group in [black_runs_low, black_runs_fill, black_runs_mid, black_runs_high]:
    df = runs_frame(group)
    sns.lineplot(data=df, x="t", y="m", units="run", estimator=None, sort=False,
                 color="black", lw=lw, ax=ax, legend=False)

for band in [m_band_1, m_band_2, m_band_3, m_band_4, m_band_5, m_band_6]:
    sns.lineplot(x=t_early, y=m_early_head + band, color="black", lw=lw, ax=ax,
                 estimator=None, sort=False)

ax.set_xlim(0, 15000)
ax.set_ylim(2.1, 131.5)
ax.set_xticks(x_ticks)
ax.set_yticks(y_ticks)
ax.tick_params(axis="both", labelsize=28, width=0.75, color="black", direction="out")
ax.tick_params(axis="y", length=11, pad=8)
ax.tick_params(axis="x", length=8, pad=7)
for lab in ax.get_xticklabels() + ax.get_yticklabels():
    lab.set_fontweight("bold")

ax.grid(True, color="black", lw=0.75, linestyle=(0, (12, 11.5)))
for sp in ax.spines.values():
    sp.set_visible(True)
    sp.set_color("black")
    sp.set_linewidth(0.75)

ax.set_xlabel("Time (s)", fontsize=31, fontweight="bold", labelpad=3)
ax.set_ylabel("Primary system mass  (t)", fontsize=33, fontweight="bold")
ax.yaxis.set_label_coords(-0.082, 0.548)

fig.savefig("out.png", dpi=200)
